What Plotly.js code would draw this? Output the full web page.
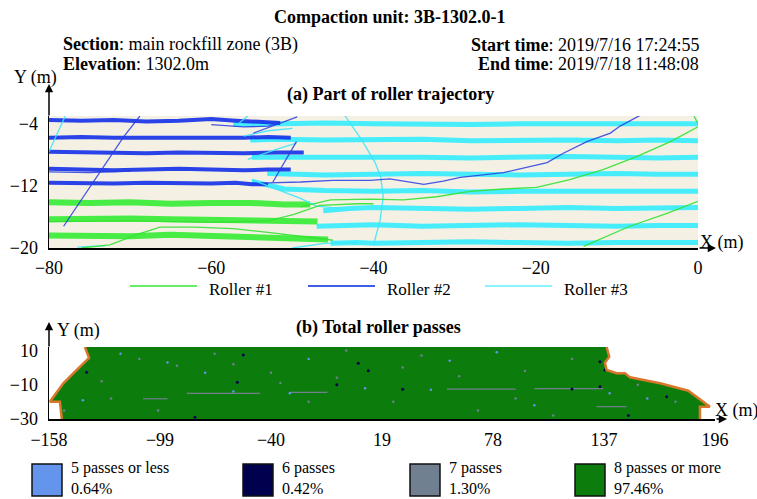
<!DOCTYPE html>
<html><head><meta charset="utf-8">
<script src="https://cdn.plot.ly/plotly-3.0.1.min.js"></script>
<style>html,body{margin:0;padding:0;background:#fff}#chart{width:757px;height:499px}</style>
</head><body><div id="chart"></div>
<script>
// ---------- Part (a): roller trajectories ----------
const rollerNames = ["Roller #1", "Roller #2", "Roller #3"];
const xTicksA = [-80, -60, -40, -20, 0];
const yTicksA = [-20, -12, -4];

// Roller #1 (green) compaction lanes
const r1LaneX = [-80,-75,-70,-65,-60,-55,-51,-47.8, null,
                 -80,-75,-70,-65,-60,-55,-51,-46.9, null,
                 -80,-75,-70,-65,-60,-55,-50,-45.6];
const r1LaneY = [-14.1,-14.2,-14.1,-14.3,-14.2,-14.2,-14.4,-14.4, null,
                 -16.3,-16.2,-16.2,-16.3,-16.4,-16.4,-16.6,-16.6, null,
                 -18.4,-18.5,-18.5,-18.3,-18.5,-18.7,-18.8,-18.9];
// Roller #1 travel paths
const r1PathX = [-49,-45.3,-40.4,-36.3,-32.2,-28.1,-24.0,-19.9,-15.8,-11.7,-7.5,-3.4,0, null,
                 -14.1,-8.4,-4,0, null,
                 -0.5,0, null,
                 -76,-72.5,-69,-66.3,-62,-57.3,-53,-49,-45, null,
                 -80,-70,-60,-53,-49.9,-46.6,-42,-40];
const r1PathY = [-14.7,-13.8,-13.7,-13.8,-13.4,-12.7,-12.4,-12.2,-11.2,-9.9,-8.2,-6.3,-4.4, null,
                 -19.8,-17.2,-15.6,-14.0, null,
                 -3.0,-4.0, null,
                 -20,-19.6,-18.2,-17.3,-17.3,-17.5,-18.0,-18.5,-19.0, null,
                 -16.6,-16.5,-16.7,-16.5,-15.7,-14.5,-14.3,-14.3];

// Roller #2 (blue) compaction lanes
const r2LaneX = [-80,-76,-72,-68,-64,-60,-57,-54,-51.5, null,
                 -80,-76,-72,-68,-64,-60,-56,-53,-50.2, null,
                 -80,-76,-72,-68,-64,-60,-56,-52,-48.6, null,
                 -80,-76,-72,-68,-64,-60,-56,-53,-50.2, null,
                 -80,-76,-72,-68,-64,-60,-57,-55,-53];
const r2LaneY = [-3.5,-3.6,-3.5,-3.7,-3.6,-3.4,-3.6,-3.8,-3.9, null,
                 -5.8,-5.7,-5.8,-5.8,-5.9,-5.8,-5.8,-5.7,-5.8, null,
                 -7.6,-7.7,-7.7,-7.8,-7.7,-7.8,-7.8,-7.7,-7.7, null,
                 -9.8,-9.9,-10.0,-9.9,-9.8,-9.9,-10.0,-9.9,-9.9, null,
                 -11.6,-11.7,-11.7,-11.6,-11.7,-11.7,-11.6,-11.8,-11.8];
// Roller #2 travel paths
const r2PathX = [-78.2,-76.6,-74.1,-72.5,-70.8,-68.8, null,
                 -53,-49,-45,-40.4,-38.0,-33.8,-31.4,-29.3,-24.0,-18.6,-16.6,-13.7,-10.8,-9.6,-7.1, null,
                 -51.5,-53,-56,-60, null,
                 -52.4,-51,-49.5, null,
                 -54.8,-52,-49.4, null,
                 -80,-75,-70];
const r2PathY = [-17.2,-14.7,-10.8,-8.2,-5.7,-3.0, null,
                 -11.6,-11.5,-11.3,-11.3,-11.1,-11.8,-11.4,-10.9,-10.3,-9.0,-7.8,-6.3,-5.2,-4.3,-2.9, null,
                 -3.9,-4.3,-4.4,-4.1, null,
                 -11.5,-9.0,-6.3, null,
                 -5.2,-4.1,-3.1, null,
                 -10.2,-10.3,-10.1];

// Roller #3 (cyan) compaction lanes
const r3LaneX = [-57.3,-52,-46,-40,-34,-28,-22,-16,-10,-5,0, null,
                 -55.2,-52,-46,-40,-34,-28,-22,-16,-10,-5,0, null,
                 -55.0,-52,-46,-40,-34,-28,-22,-16,-10,-5,0, null,
                 -53.1,-50,-46,-40,-34,-28,-22,-16,-10,-5,0, null,
                 -55.0,-51,-46,-40,-34,-28,-22,-16,-10,-5,0, null,
                 -46.2,-43,-40,-34,-28,-22,-16,-10,-5,0, null,
                 -47.0,-44,-40,-34,-28,-22,-16,-10,-5,0, null,
                 -45.3,-42,-40,-34,-28,-22,-16,-10,-5,0];
const r3LaneY = [-4.1,-4.0,-3.9,-4.0,-4.1,-4.1,-4.0,-4.0,-4.1,-4.0,-4.0, null,
                 -6.1,-6.0,-6.1,-6.1,-6.0,-6.2,-6.1,-6.1,-6.2,-6.1,-6.2, null,
                 -8.3,-8.3,-8.2,-8.3,-8.3,-8.4,-8.3,-8.2,-8.3,-8.4,-8.3, null,
                 -10.4,-10.5,-10.6,-10.5,-10.4,-10.5,-10.6,-10.5,-10.4,-10.5,-10.5, null,
                 -11.4,-12.4,-12.6,-12.7,-12.6,-12.8,-12.7,-12.7,-12.8,-12.7,-12.7, null,
                 -15.2,-14.9,-14.8,-14.9,-15.0,-14.9,-14.8,-14.9,-14.9,-14.8, null,
                 -17.2,-17.1,-17.0,-17.2,-17.1,-17.0,-17.1,-17.2,-17.1,-17.1, null,
                 -19.4,-19.3,-19.4,-19.3,-19.2,-19.3,-19.4,-19.3,-19.3,-19.3];
// Roller #3 travel paths
const r3PathX = [-44,-43.5,-41.5,-39.8,-39.1,-38.8,-39.2,-40, null,
                 -80,-79,-78, null,
                 -76.5,-73, null,
                 -56,-53,-50, null,
                 -55.5,-52,-49.5, null,
                 -55,-52,-49,-47,-44, null,
                 -50,-46,-42, null,
                 -57,-55.5];
const r3PathY = [-2.8,-3.0,-6.0,-9.0,-10.9,-13.4,-16.5,-19.6, null,
                 -7.6,-5.2,-3.0, null,
                 -19.9,-19.7, null,
                 -5.6,-4.9,-4.6, null,
                 -8.6,-7.3,-6.5, null,
                 -11.2,-12.4,-13.6,-14.6,-14.9, null,
                 -20,-19.4,-19.3, null,
                 -4.3,-3.0];

// ---------- Part (b): total roller passes ----------
const xTicksB = [-158, -99, -40, 19, 78, 137, 196];
const yTicksB = [-30, -10, 10];
const passLabels = ["5 passes or less", "6 passes", "7 passes", "8 passes or more"];
const passPercents = ["0.64%", "0.42%", "1.30%", "97.46%"];
const passColors = ["#6495ED", "#00004E", "#708090", "#0C7C0C"];

// boundary of the compaction unit
const leftEdgeX = [-151.2,-152.2,-157.5,-150.4,-144.2,-136.7,-138.9];
const leftEdgeY = [-30,-19.9,-19.9,-9.2,-2.4,5.6,12];
const rightEdgeX = [138.4,139.8,137.5,138.4,143.7,148.2,150.8,166.8,181.8,193.3,188.0,188.0];
const rightEdgeY = [12,6.3,2.8,-1.4,-3.3,-3.3,-5.7,-9.2,-13.5,-22.8,-22.8,-30];

// under-compacted cells
const pass5X = [-120,-95,-60,-30,10,45,100,140,160,-140,-20,80,-75,55];
const pass5Y = [8,3,-14,-15,-12,-13,-22,-15,-18,-19,5,9,-3,4];
const pass6X = [-138,-57.9,134.9,137.5,134.9,11.7,6.4,-54.7,-80.4,170.3,-5,150,120,30];
const pass6Y = [-2.8,-8.6,3.4,-1.4,-11.2,-1.8,2.5,7.3,-29,-17,-10,-28,-12.5,-12.6];
const pass7X = [-110,-90,-70,-40,-20,30,60,90,120,-130,-150,0,-100,110,70,-35,25,155,175,-125,-60,-5,40,95];
const pass7Y = [5,1,8,-3,-20,0,-5,-18,5,-8,-25,10,-25,-28,-25,-9,-20,-10,-20,-18,2,-6,7,-2];
const streakX = [-84.7,-45.8, null, -108,-95, null, 53.5,90, null, 100,136.5, null, 133,149, null, -30,-10];
const streakY = [-15,-15, null, -18.2,-18.2, null, -12.6,-12.6, null, -12.3,-12.3, null, -22.8,-22.8, null, -14.5,-14.5];

// ---------- helpers for layout placement ----------
const W = 757, H = 499;
const px = v => v / W;
const py = v => 1 - v / H;
const FONT = "'Liberation Serif', 'Times New Roman', Times, 'DejaVu Serif', serif";

const cGreen = "rgba(40,236,40,0.85)", cBlue = "rgba(20,48,232,0.9)", cCyan = "rgba(40,236,255,0.85)";

const traces = [
  {x: r3LaneX, y: r3LaneY, xaxis: "x", yaxis: "y", mode: "lines", line: {color: cCyan, width: 5}, hoverinfo: "skip"},
  {x: r1LaneX, y: r1LaneY, xaxis: "x", yaxis: "y", mode: "lines", line: {color: cGreen, width: 6}, hoverinfo: "skip"},
  {x: r2LaneX, y: r2LaneY, xaxis: "x", yaxis: "y", mode: "lines", line: {color: cBlue, width: 4}, hoverinfo: "skip"},
  {x: r3PathX, y: r3PathY, xaxis: "x", yaxis: "y", mode: "lines", line: {color: "rgba(60,230,250,0.9)", width: 1.3}, hoverinfo: "skip"},
  {x: r1PathX, y: r1PathY, xaxis: "x", yaxis: "y", mode: "lines", line: {color: "rgba(50,225,50,0.9)", width: 1.3}, hoverinfo: "skip"},
  {x: r2PathX, y: r2PathY, xaxis: "x", yaxis: "y", mode: "lines", line: {color: "rgba(40,60,225,0.85)", width: 1.3}, hoverinfo: "skip"},

  {x: leftEdgeX.concat(rightEdgeX), y: leftEdgeY.concat(rightEdgeY), xaxis: "x2", yaxis: "y2",
   mode: "lines", fill: "toself", fillcolor: passColors[3], line: {width: 0, color: passColors[3]}, hoverinfo: "skip"},
  {x: streakX, y: streakY, xaxis: "x2", yaxis: "y2", mode: "lines", line: {color: passColors[2], width: 1.2}, hoverinfo: "skip"},
  {x: pass7X, y: pass7Y, xaxis: "x2", yaxis: "y2", mode: "markers", marker: {color: passColors[2], size: 2.5}, hoverinfo: "skip"},
  {x: pass5X, y: pass5Y, xaxis: "x2", yaxis: "y2", mode: "markers", marker: {color: passColors[0], size: 2.5}, hoverinfo: "skip"},
  {x: pass6X, y: pass6Y, xaxis: "x2", yaxis: "y2", mode: "markers", marker: {color: passColors[1], size: 3}, hoverinfo: "skip"},
  {x: leftEdgeX, y: leftEdgeY, xaxis: "x2", yaxis: "y2", mode: "lines", line: {color: "#D9782D", width: 2.5}, hoverinfo: "skip"},
  {x: rightEdgeX, y: rightEdgeY, xaxis: "x2", yaxis: "y2", mode: "lines", line: {color: "#D9782D", width: 2.5}, hoverinfo: "skip"}
];

const axisCommon = {showgrid: false, zeroline: false, showline: true, linecolor: "#000", linewidth: 1.5,
  ticks: "", fixedrange: true, tickfont: {family: FONT, size: 18, color: "#000"}};

const shapes = [
  {type: "rect", xref: "x domain", yref: "y domain", x0: 0, x1: 1, y0: 0, y1: 1,
   fillcolor: "#F5F0E4", line: {width: 0}, layer: "below"}
];
const annotations = [];
const ann = (text, x, y, xanchor, size, yanchor) => annotations.push(
  {text: text, xref: "paper", yref: "paper", x: px(x), y: py(y), xanchor: xanchor || "center", yanchor: yanchor || "middle",
   align: "left", borderpad: 0, showarrow: false, font: {family: FONT, size: size || 18, color: "#000"}});
const arrow = (x, y, ax, ay) => annotations.push({text: "", xref: "paper", yref: "paper", x: px(x), y: py(y),
  ax: ax, ay: ay, showarrow: true, arrowhead: 2, arrowsize: 1.1, arrowwidth: 1.5, arrowcolor: "#000"});

ann("<b>Compaction unit: 3B-1302.0-1</b>", 390, 17);
ann("<b>Section</b>: main rockfill zone (3B)", 62, 45, "left");
ann("<b>Elevation</b>: 1302.0m", 62, 64, "left");
ann("<b>Start time</b>: 2019/7/16 17:24:55", 700, 45, "right");
ann("<b>End time</b>: 2019/7/18 11:48:08", 700, 64, "right");
ann("Y (m)", 35, 77);
ann("<b>(a) Part of roller trajectory</b>", 390, 95);
ann("X (m)", 722, 243);
ann("<b>(b) Total roller passes</b>", 378, 327);
ann("Y (m)", 78, 330);
ann("X (m)", 737, 410);
arrow(49, 84, 0, 33);
arrow(716, 248, -18, 0);
arrow(49, 322, 0, 26);
arrow(727, 419, -12, 0);

// legend (a)
const legLineX = [130, 308, 485];
const legLineColors = ["#66EE66", "#3F5EE8", "#88F4FF"];
rollerNames.forEach((n, i) => {
  shapes.push({type: "line", xref: "paper", yref: "paper", x0: px(legLineX[i]), x1: px(legLineX[i] + 67),
    y0: py(286), y1: py(286), line: {color: legLineColors[i], width: 2}});
  ann(n, legLineX[i] + 78, 289, "left", 17);
});
// legend (b)
const legBoxX = [32, 243, 410, 575];
passLabels.forEach((n, i) => {
  shapes.push({type: "rect", xref: "paper", yref: "paper", x0: px(legBoxX[i]), x1: px(legBoxX[i] + 30),
    y0: py(496), y1: py(464), fillcolor: passColors[i], line: {color: "#111", width: 1.5}});
  ann(n + "<br>" + passPercents[i], legBoxX[i] + 38, 498, "left", 16, "bottom");
});

const layout = {
  width: W, height: H, margin: {l: 0, r: 0, t: 0, b: 0},
  paper_bgcolor: "#fff", plot_bgcolor: "rgba(0,0,0,0)", showlegend: false,
  font: {family: FONT, size: 18, color: "#000"},
  xaxis: Object.assign({}, axisCommon, {domain: [px(49), px(698)], range: [-80, 0], tickvals: xTicksA, anchor: "y", ticklabelstandoff: 3}),
  yaxis: Object.assign({}, axisCommon, {domain: [py(248), py(116)], range: [-20, -3], tickvals: yTicksA, anchor: "x", ticklabelstandoff: 6}),
  xaxis2: Object.assign({}, axisCommon, {domain: [px(49), px(715)], range: [-158, 196], tickvals: xTicksB, anchor: "y2", ticklabelstandoff: 4}),
  yaxis2: Object.assign({}, axisCommon, {domain: [py(419), py(347)], range: [-30, 12], tickvals: yTicksB, anchor: "x2", ticklabelstandoff: 6}),
  shapes: shapes, annotations: annotations
};

Plotly.newPlot("chart", traces, layout, {staticPlot: true, displayModeBar: false});
</script></body></html>
